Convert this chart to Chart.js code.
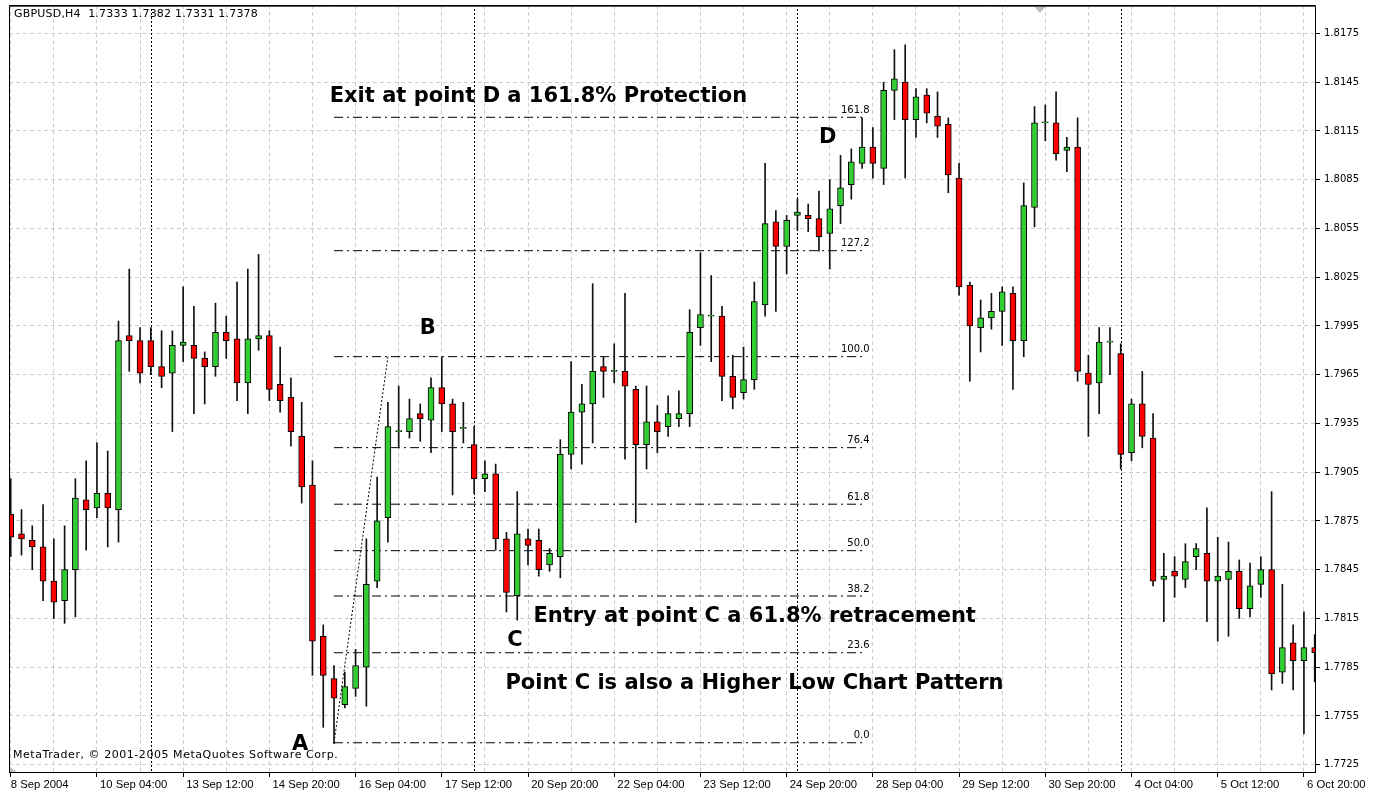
<!DOCTYPE html>
<html>
<head>
<meta charset="utf-8">
<script src="https://cdn.jsdelivr.net/npm/chart.js@4.4.1/dist/chart.umd.min.js"></script>
<style>
html,body{margin:0;padding:0;background:#fff;overflow:hidden}
canvas{display:block}
</style>
</head>
<body>
<canvas id="c" width="1376" height="793"></canvas>
<script>
// ---- Data (GBPUSD H4) ----
const opens = [
1.7879,1.7867,1.7863,1.7859,1.7838,1.7826,1.7845,1.7888,1.7883,1.7892,
1.7882,1.7989,1.7986,1.7986,1.7970,1.7966,1.7983,1.7983,1.7975,1.7970,
1.7991,1.7987,1.7960,1.7987,1.7989,1.7959,1.7951,1.7927,1.7897,1.7804,
1.7778,1.7762,1.7772,1.7785,1.7838,1.7877,1.7930,1.7930,1.7941,1.7937,
1.7957,1.7947,1.7932,1.7922,1.7901,1.7904,1.7864,1.7829,1.7864,1.7863,
1.7848,1.7853,1.7916,1.7942,1.7947,1.7970,1.7967,1.7967,1.7956,1.7922,
1.7936,1.7933,1.7938,1.7941,1.7994,1.8001,1.8001,1.7964,1.7954,1.7962,
1.8008,1.8059,1.8044,1.8063,1.8063,1.8061,1.8052,1.8069,1.8082,1.8095,
1.8105,1.8092,1.8140,1.8145,1.8122,1.8137,1.8124,1.8119,1.8086,1.8020,
1.7994,1.8000,1.8004,1.8015,1.7986,1.8068,1.8120,1.8120,1.8103,1.8105,
1.7966,1.7960,1.7985,1.7978,1.7917,1.7947,1.7926,1.7839,1.7844,1.7839,
1.7853,1.7855,1.7838,1.7839,1.7844,1.7821,1.7836,1.7845,1.7782,1.7800,
1.7789,1.7797];
const highs = [
1.7901,1.7882,1.7872,1.7885,1.7864,1.7872,1.7901,1.7912,1.7923,1.7918,
1.7998,1.8030,1.7994,1.7994,1.7992,1.7992,1.8019,1.8007,1.7979,1.8009,
1.8001,1.8022,1.8030,1.8039,1.7992,1.7982,1.7963,1.7948,1.7912,1.7811,
1.7786,1.7782,1.7796,1.7864,1.7902,1.7948,1.7958,1.7950,1.7947,1.7963,
1.7976,1.7950,1.7948,1.7933,1.7912,1.7910,1.7868,1.7893,1.7870,1.7870,
1.7858,1.7925,1.7973,1.7959,1.8021,1.7976,1.7984,1.8015,1.7958,1.7958,
1.7946,1.7952,1.7955,1.8005,1.8040,1.8026,1.8007,1.7977,1.7982,1.8022,
1.8095,1.8066,1.8063,1.8073,1.8070,1.8078,1.8085,1.8100,1.8104,1.8123,
1.8117,1.8145,1.8165,1.8168,1.8141,1.8141,1.8139,1.8123,1.8095,1.8022,
1.8011,1.8015,1.8019,1.8019,1.8083,1.8130,1.8131,1.8139,1.8111,1.8123,
1.7977,1.7994,1.7994,1.7984,1.7950,1.7967,1.7941,1.7855,1.7853,1.7861,
1.7861,1.7883,1.7865,1.7862,1.7851,1.7849,1.7853,1.7893,1.7836,1.7811,
1.7819,1.7805];
const lows = [
1.7853,1.7854,1.7845,1.7826,1.7815,1.7812,1.7816,1.7857,1.7877,1.7859,
1.7862,1.7967,1.7960,1.7965,1.7957,1.7930,1.7973,1.7941,1.7947,1.7964,
1.7975,1.7949,1.7941,1.7980,1.7949,1.7942,1.7921,1.7886,1.7780,1.7748,
1.7738,1.7760,1.7767,1.7761,1.7834,1.7862,1.7920,1.7926,1.7924,1.7917,
1.7930,1.7891,1.7923,1.7892,1.7893,1.7857,1.7819,1.7814,1.7848,1.7841,
1.7844,1.7840,1.7907,1.7910,1.7923,1.7951,1.7960,1.7913,1.7874,1.7907,
1.7917,1.7927,1.7933,1.7933,1.7983,1.7973,1.7949,1.7944,1.7950,1.7956,
1.8001,1.8004,1.8027,1.8054,1.8053,1.8041,1.8030,1.8058,1.8073,1.8092,
1.8086,1.8082,1.8122,1.8086,1.8111,1.8120,1.8111,1.8077,1.8014,1.7961,
1.7979,1.7993,1.7983,1.7956,1.7976,1.8056,1.8109,1.8097,1.8090,1.7961,
1.7927,1.7941,1.7965,1.7907,1.7912,1.7920,1.7835,1.7813,1.7828,1.7834,
1.7845,1.7813,1.7801,1.7804,1.7815,1.7816,1.7828,1.7771,1.7775,1.7771,
1.7744,1.7776];
const closes = [
1.7865,1.7864,1.7859,1.7838,1.7825,1.7845,1.7889,1.7882,1.7892,1.7883,
1.7986,1.7986,1.7966,1.7970,1.7964,1.7983,1.7985,1.7975,1.7970,1.7991,
1.7986,1.7960,1.7987,1.7989,1.7956,1.7949,1.7930,1.7896,1.7801,1.7780,
1.7766,1.7773,1.7786,1.7836,1.7875,1.7933,1.7930,1.7938,1.7938,1.7957,
1.7947,1.7930,1.7932,1.7901,1.7904,1.7864,1.7831,1.7867,1.7860,1.7845,
1.7855,1.7916,1.7942,1.7947,1.7967,1.7967,1.7967,1.7958,1.7922,1.7936,
1.7930,1.7941,1.7941,1.7991,1.8002,1.8001,1.7964,1.7951,1.7962,1.8010,
1.8058,1.8044,1.8060,1.8065,1.8061,1.8050,1.8067,1.8080,1.8096,1.8105,
1.8095,1.8140,1.8147,1.8122,1.8136,1.8126,1.8118,1.8088,1.8019,1.7995,
1.8000,1.8004,1.8016,1.7986,1.8069,1.8120,1.8120,1.8101,1.8105,1.7967,
1.7959,1.7985,1.7985,1.7916,1.7947,1.7927,1.7838,1.7841,1.7841,1.7850,
1.7858,1.7838,1.7841,1.7844,1.7821,1.7835,1.7845,1.7781,1.7797,1.7789,
1.7797,1.7794];

const dateLabels = ['8 Sep 2004','10 Sep 04:00','13 Sep 12:00','14 Sep 20:00','16 Sep 04:00',
  '17 Sep 12:00','20 Sep 20:00','22 Sep 04:00','23 Sep 12:00','24 Sep 20:00','28 Sep 04:00',
  '29 Sep 12:00','30 Sep 20:00','4 Oct 04:00','5 Oct 12:00','6 Oct 20:00'];
const priceTicks = [1.7725,1.7755,1.7785,1.7815,1.7845,1.7875,1.7905,1.7935,1.7965,
  1.7995,1.8025,1.8055,1.8085,1.8115,1.8145,1.8175];
const priceTickLabels = ['1.7725','1.7755','1.7785','1.7815','1.7845','1.7875','1.7905','1.7935','1.7965',
  '1.7995','1.8025','1.8055','1.8085','1.8115','1.8145','1.8175'];
const weekStarts = [13, 43, 73, 103];           // Monday 00:00 bars (period separators)
const fibLabels = ['0.0','23.6','38.2','50.0','61.8','76.4','100.0','127.2','161.8'];
const fibPrices = [1.77385,1.77939,1.78288,1.78567,1.78853,1.79201,1.79761,1.80413,1.81234];
const fibFrom = 30, fibTo = 79.1, fibLabelAt = 79.7;   // bar indices
const trendFrom = [30, 1.77385], trendTo = [35, 1.79761];
const shiftMarkerAt = 95.5;                      // chart-shift marker (bar index)
const notes = [
  {text:'Exit at point D a 161.8% Protection', x:29.6, y:1.8136, align:'left'},
  {text:'Entry at point C a 61.8% retracement', x:48.5, y:1.7816, align:'left'},
  {text:'Point C is also a Higher Low Chart Pattern', x:45.9, y:1.7775, align:'left'},
  {text:'A', x:26.85, y:1.77371, align:'center'},
  {text:'B', x:38.7, y:1.79931, align:'center'},
  {text:'C', x:46.8, y:1.78017, align:'center'},
  {text:'D', x:75.8, y:1.81107, align:'center'}
];

const BULL = '#32cd32', BEAR = '#ff0000';
const idx = opens.map((_, i) => i);

const wickData = idx.map(i => ({x: i, y: [lows[i], highs[i]]}));
const bodyData = idx.map(i => ({x: i, y: [opens[i], closes[i]]}));

const fibDatasets = fibPrices.map(p => ({
  type: 'line',
  data: [{x: fibFrom, y: p}, {x: fibTo, y: p}],
  borderColor: '#000', borderWidth: 1, borderDash: [9,4,2,4],
  pointRadius: 0, order: 3, fill: false
}));

const overlay = {
  id: 'overlay',
  beforeDatasetsDraw(chart) {
    const {ctx, chartArea: a, scales: {x}} = chart;
    ctx.save();
    ctx.strokeStyle = '#000';
    ctx.lineWidth = 1;
    ctx.setLineDash([2, 2]);
    weekStarts.forEach(w => {
      const px = Math.round(x.getPixelForValue(w)) + 0.5;
      ctx.beginPath(); ctx.moveTo(px, a.top); ctx.lineTo(px, a.bottom); ctx.stroke();
    });
    ctx.restore();
  },
  afterDatasetsDraw(chart) {
    const {ctx, chartArea: a, scales: {x, y}} = chart;
    ctx.save();
    // fib level labels
    ctx.fillStyle = '#000';
    ctx.font = '10px "DejaVu Sans"';
    ctx.textAlign = 'right';
    ctx.textBaseline = 'middle';
    fibPrices.forEach((p, k) => {
      ctx.fillText(fibLabels[k], x.getPixelForValue(fibLabelAt), y.getPixelForValue(p) - 7);
    });
    // annotations
    ctx.font = 'bold 21px "DejaVu Sans"';
    notes.forEach(n => {
      ctx.textAlign = n.align;
      ctx.fillText(n.text, x.getPixelForValue(n.x), y.getPixelForValue(n.y));
    });
    // header & copyright
    ctx.textAlign = 'left';
    ctx.font = '11px "DejaVu Sans"';
    try { ctx.letterSpacing = '0.2px'; } catch (e) {}
    ctx.fillText('GBPUSD,H4  1.7333 1.7382 1.7331 1.7378', a.left + 5, a.top + 9);
    try { ctx.letterSpacing = '0.55px'; } catch (e) {}
    ctx.fillText('MetaTrader, \u00A9 2001-2005 MetaQuotes Software Corp.', a.left + 4, a.bottom - 17);
    try { ctx.letterSpacing = '0px'; } catch (e) {}
    // small gray markers (chart shift marker at top, corner marker at bottom-left)
    ctx.fillStyle = '#b8bcc4';
    const sx = x.getPixelForValue(shiftMarkerAt);
    ctx.beginPath();
    ctx.moveTo(sx - 6, a.top + 1); ctx.lineTo(sx + 6, a.top + 1); ctx.lineTo(sx, a.top + 8);
    ctx.closePath(); ctx.fill();
    ctx.beginPath();
    ctx.moveTo(a.left + 1, a.bottom - 5); ctx.lineTo(a.left + 1, a.bottom); ctx.lineTo(a.left + 8, a.bottom);
    ctx.closePath(); ctx.fill();
    // frame
    ctx.strokeStyle = '#000';
    ctx.lineWidth = 1;
    ctx.setLineDash([]);
    ctx.strokeRect(Math.round(a.left) + 0.5, Math.round(a.top) + 0.5,
      Math.round(a.right - a.left) - 1, Math.round(a.bottom - a.top));
    ctx.beginPath();
    ctx.moveTo(a.left, Math.round(a.top) + 1.5); ctx.lineTo(a.right, Math.round(a.top) + 1.5);
    ctx.strokeStyle = '#555';
    ctx.stroke();
    ctx.restore();
  }
};

new Chart(document.getElementById('c'), {
  type: 'bar',
  data: {
    datasets: [
      {
        data: bodyData,
        backgroundColor: ctx => closes[ctx.dataIndex] >= opens[ctx.dataIndex] ? BULL : BEAR,
        borderColor: '#000', borderWidth: 1, borderSkipped: false,
        barThickness: 6, minBarLength: 1, grouped: false, order: 1
      },
      {
        data: wickData,
        backgroundColor: '#111', borderWidth: 0,
        barThickness: 1, grouped: false, order: 2
      },
      ...fibDatasets,
      {
        type: 'line',
        data: [{x: trendFrom[0], y: trendFrom[1]}, {x: trendTo[0], y: trendTo[1]}],
        borderColor: '#000', borderWidth: 1, borderDash: [2, 2],
        pointRadius: 0, order: 3, fill: false
      }
    ]
  },
  options: {
    responsive: false,
    animation: false,
    devicePixelRatio: 1,
    layout: {padding: {left: 9, top: 5, right: 0, bottom: 0}},
    plugins: {legend: {display: false}, tooltip: {enabled: false}},
    scales: {
      x: {
        type: 'linear',
        min: -0.16, max: 121.12,
        offset: false,
        afterBuildTicks: s => { s.ticks = idx.filter(i => i % 4 === 0).map(v => ({value: v})); },
        afterFit: s => { s.height = 21; s.paddingLeft = 0; s.paddingRight = 0; },
        ticks: {
          autoSkip: false, maxRotation: 0, align: 'start', padding: 1,
          color: '#000', font: {family: '"Liberation Sans"', size: 11.3},
          callback: v => (v % 8 === 0 ? (v === 0 ? '' : ' ') + dateLabels[v / 8] : '')
        },
        grid: {
          offset: false,
          color: '#c9ced6', lineWidth: 1, tickLength: 5,
          tickColor: c => (c.tick && c.tick.value % 8 === 0) ? '#000' : 'rgba(0,0,0,0)'
        },
        border: {display: false, dash: [4, 3]}
      },
      y: {
        type: 'linear',
        position: 'right',
        min: 1.77205, max: 1.81925,
        afterBuildTicks: s => { s.ticks = priceTicks.map(v => ({value: v})); },
        afterFit: s => { s.width = 60; s.paddingTop = 0; s.paddingBottom = 0; },
        ticks: {
          padding: 4, color: '#000', font: {family: '"DejaVu Sans"', size: 10},
          callback: (v, i) => priceTickLabels[i]
        },
        grid: {color: '#c9ced6', lineWidth: 1, tickLength: 4, tickColor: '#000'},
        border: {display: false, dash: [4, 3]}
      }
    }
  },
  plugins: [overlay]
});
</script>
</body>
</html>
